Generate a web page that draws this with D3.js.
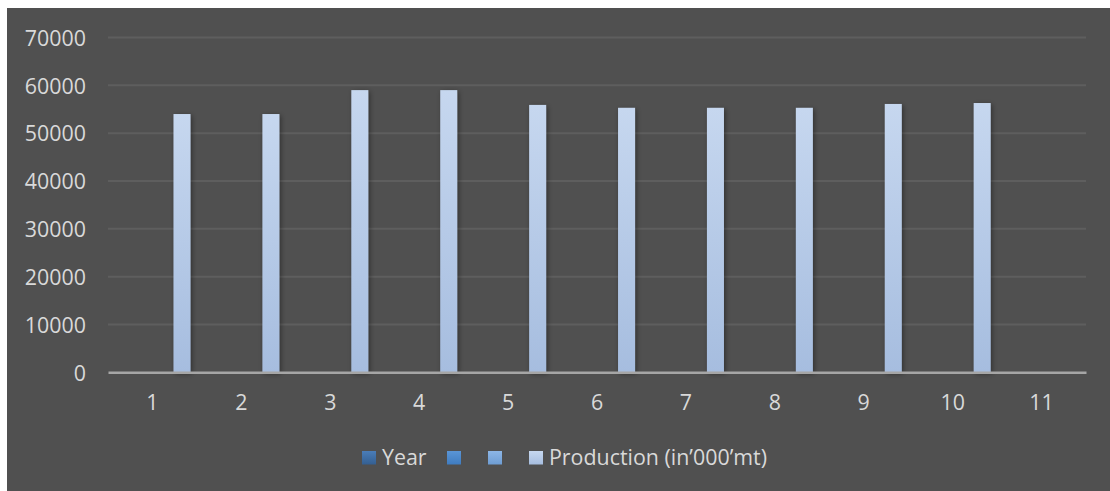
<!DOCTYPE html>
<html>
<head>
<meta charset="utf-8">
<script src="https://cdn.jsdelivr.net/npm/d3@7"></script>
<style>
  html, body { margin: 0; padding: 0; background: #ffffff; }
  svg { display: block; }
  text { font-family: "Open Sans", "Liberation Sans", sans-serif; }
</style>
</head>
<body>
<svg id="chart" width="1110" height="491"></svg>
<script>
// ---- data ----
const categories = ["1", "2", "3", "4", "5", "6", "7", "8", "9", "10", "11"];
const yearValues = [null, null, null, null, null, null, null, null, null, null, null];
const blankSeries1 = [null, null, null, null, null, null, null, null, null, null, null];
const blankSeries2 = [null, null, null, null, null, null, null, null, null, null, null];
const productionValues = [54000, 54000, 59000, 59000, 55900, 55300, 55300, 55300, 56100, 56300, null];
const seriesNames = ["Year", "", "", "Production (in\u2019000\u2019mt)"];
const yTicks = [0, 10000, 20000, 30000, 40000, 50000, 60000, 70000];

const allSeries = [yearValues, blankSeries1, blankSeries2, productionValues];
const seriesColors = [
  ["#4a7db8", "#345f91"],
  ["#5a95d6", "#3f7cc0"],
  ["#8db6e6", "#6e9dd3"],
  ["#c6d7ef", "#a6bddf"]
];

const svg = d3.select("#chart");
const W = 1110, H = 491;
const FS = "21.4px";

// background
svg.append("rect").attr("x", 0).attr("y", 0).attr("width", W).attr("height", H).attr("fill", "#ffffff");
svg.append("rect").attr("x", 7).attr("y", 8).attr("width", W - 7).attr("height", H - 8).attr("fill", "#505050");

const defs = svg.append("defs");
seriesColors.forEach((c, i) => {
  const g = defs.append("linearGradient").attr("id", "grad" + i)
    .attr("x1", 0).attr("y1", 0).attr("x2", 0).attr("y2", 1);
  g.append("stop").attr("offset", "0%").attr("stop-color", c[0]);
  g.append("stop").attr("offset", "100%").attr("stop-color", c[1]);
});
const f = defs.append("filter").attr("id", "shadow").attr("x", "-30%").attr("y", "-10%").attr("width", "180%").attr("height", "130%");
f.append("feDropShadow").attr("dx", 1.5).attr("dy", 1.5).attr("stdDeviation", 2.5)
  .attr("flood-color", "#000").attr("flood-opacity", 0.4);

const plotLeft = 108, plotRight = 1086, plotTop = 37.5, plotBottom = 372.3;

const x = d3.scaleBand().domain(categories).range([plotLeft, plotRight]).padding(0);
const y = d3.scaleLinear().domain([0, 70000]).range([plotBottom, plotTop]);

// gridlines
svg.append("g").selectAll("line").data(yTicks.filter(t => t > 0)).join("line")
  .attr("x1", plotLeft).attr("x2", plotRight)
  .attr("y1", d => y(d)).attr("y2", d => y(d))
  .attr("stroke", "#5e5e5e").attr("stroke-width", 2);

// y axis labels
const yAxis = d3.axisLeft(y).tickValues(yTicks).tickSize(0).tickPadding(0).tickFormat(d3.format("d"));
const yg = svg.append("g").attr("transform", `translate(${plotLeft - 22},0)`).call(yAxis);
yg.select(".domain").remove();
yg.selectAll("text").attr("fill", "#d9d9d9").attr("font-size", FS)
  .attr("font-family", "'Open Sans', sans-serif").attr("dy", "0.36em");

// bars
const step = 19.7, barW = 17;
const bars = svg.append("g");
allSeries.forEach((vals, si) => {
  const data = categories.map((c, i) => ({ c, v: vals[i] })).filter(d => d.v != null && d.v > 0);
  bars.append("g").selectAll("rect").data(data).join("rect")
    .attr("x", d => x(d.c) + x.bandwidth() / 2 + (si - 1.5) * step - barW / 2)
    .attr("width", barW)
    .attr("y", d => y(d.v))
    .attr("height", d => y(0) - y(d.v))
    .attr("fill", `url(#grad${si})`)
    .attr("filter", "url(#shadow)");
});

// x axis
const xAxis = d3.axisBottom(x).tickSize(0).tickPadding(0);
const xg = svg.append("g").attr("transform", `translate(0,${plotBottom})`).call(xAxis);
xg.select(".domain").attr("stroke", "#a6a6a6").attr("stroke-width", 2.5);
xg.selectAll("text").attr("fill", "#d9d9d9").attr("font-size", FS)
  .attr("font-family", "'Open Sans', sans-serif").attr("dy", "0").attr("y", 38);

// legend
const legendX = [362, 447, 488, 529];
const legend = svg.append("g");
seriesNames.forEach((name, i) => {
  legend.append("rect").attr("x", legendX[i]).attr("y", 451).attr("width", 14).attr("height", 13.5)
    .attr("fill", `url(#grad${i})`);
  if (name) {
    legend.append("text").attr("x", legendX[i] + 20).attr("y", 464.5)
      .attr("fill", "#d9d9d9").attr("font-size", FS).text(name);
  }
});
</script>
</body>
</html>
